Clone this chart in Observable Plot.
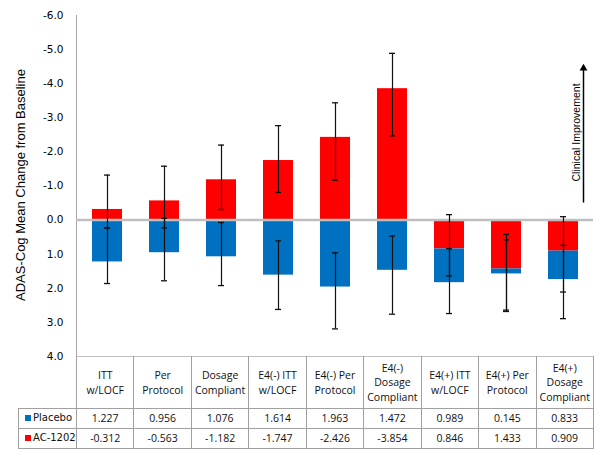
<!DOCTYPE html>
<html><head><meta charset="utf-8">
<script src="https://cdn.jsdelivr.net/npm/d3@7"></script>
<script src="https://cdn.jsdelivr.net/npm/@observablehq/plot@0.6"></script>
<style>
body{margin:0;background:#fff;}
#wrap{position:relative;width:600px;height:459px;overflow:hidden;}
#chart{position:absolute;left:0;top:0;}
#ytitle{position:absolute;left:20px;top:185px;width:0;height:0;}
#ytitle span{position:absolute;left:0;top:0;transform:translate(-50%,-50%) rotate(-90deg);white-space:nowrap;font-family:"Liberation Sans";font-size:13px;color:#000;line-height:1;}
#tbl{position:absolute;left:18px;top:356px;border-collapse:collapse;table-layout:fixed;width:575.4px;font-family:"Open Sans";font-size:10.5px;color:#111;}
#tbl td{border:1px solid #a0a0a0;text-align:center;padding:0;white-space:pre-line;line-height:14.5px;vertical-align:middle;}
#tbl tr.hdr{height:52px;}
#tbl tr.hdr td{border-top:1px solid #bfbfbf;}
#tbl tr.val{height:20px;}
#tbl td.blank{border-top:none !important;border-left:none;}
#tbl td.leg{text-align:left;font-family:"DejaVu Sans";font-size:10px;padding-left:6px;white-space:nowrap;}
.sw{display:inline-block;width:6px;height:6px;margin-right:2px;vertical-align:0px;}
</style></head>
<body>
<div id="wrap"><div id="chart"></div><div id="ytitle"><span></span></div><table id="tbl"></table></div>
<script>
const categories = ["ITT\nw/LOCF", "Per\nProtocol", "Dosage\nCompliant", "E4(-) ITT\nw/LOCF", "E4(-) Per\nProtocol", "E4(-)\nDosage\nCompliant", "E4(+) ITT\nw/LOCF", "E4(+) Per\nProtocol", "E4(+)\nDosage\nCompliant"];
const seriesNames = ["Placebo", "AC-1202"];
const seriesColors = ["#0070C0", "#FF0000"];
const placebo = [1.227, 0.956, 1.076, 1.614, 1.963, 1.472, 0.989, 0.145, 0.833];
const ac1202 = [-0.312, -0.563, -1.182, -1.747, -2.426, -3.854, 0.846, 1.433, 0.909];
// error bar ends (chart units, stacked position)
const placeboErrLow  = [0.23, -0.05, 0.07, 0.61, 0.96, 0.47, 0.84, 0.58, 0.74];
const placeboErrHigh = [1.86, 1.78, 1.92, 2.62, 3.19, 2.76, 2.74, 2.68, 2.89];
const acErrLow  = [-1.32, -1.58, -2.20, -2.77, -3.44, -4.89, -0.16, 0.42, -0.10];
const acErrHigh = [0.23, 0.23, -0.31, -0.81, -1.17, -2.47, 1.64, 2.64, 2.11];
const yTicks = [-6, -5, -4, -3, -2, -1, 0, 1, 2, 3, 4];
const yTitle = "ADAS-Cog Mean Change from Baseline";
const annotation = "Clinical Improvement";
const arrowFrom = -0.5, arrowTo = -4.45, annotY = -2.57;

const rows = [];
categories.forEach((c, i) => {
  rows.push({cat: c, series: "AC-1202", value: ac1202[i]});
  rows.push({cat: c, series: "Placebo", value: placebo[i]});
});
const errs = [];
categories.forEach((c, i) => {
  errs.push({cat: c, lo: acErrLow[i], hi: acErrHigh[i]});
  errs.push({cat: c, lo: placeboErrLow[i], hi: placeboErrHigh[i]});
});
const caps = errs.flatMap(e => [{cat: e.cat, y: e.lo}, {cat: e.cat, y: e.hi}]);
const lastCat = categories[categories.length - 1];

const chart = Plot.plot({
  width: 600, height: 366,
  marginTop: 15, marginBottom: 10, marginLeft: 76, marginRight: 7,
  style: {fontFamily: "DejaVu Sans", fontSize: "10.5px", color: "#000", background: "transparent"},
  x: {domain: categories, paddingInner: 0.48, paddingOuter: 0.24, axis: null},
  y: {domain: [-6, 4], reverse: true, axis: null},
  color: {domain: seriesNames, range: seriesColors},
  marks: [
    Plot.frame({anchor: "left", stroke: "#a6a6a6"}),
    Plot.barY(rows, {x: "cat", y: "value", fill: "series"}),
    Plot.ruleY([0], {stroke: "#bfbfbf", strokeWidth: 2.5}),
    Plot.ruleX(errs, {x: "cat", y1: "lo", y2: "hi", stroke: "#111", strokeWidth: 1.2}),
    Plot.tickY(caps, {x: "cat", y: "y", stroke: "#111", strokeWidth: 1.3, insetLeft: 12, insetRight: 12}),
    Plot.axisY({ticks: yTicks, tickFormat: d => d.toFixed(1), tickSize: 0, tickPadding: 13, label: null, fontSize: 10.5}),
    Plot.ruleX([lastCat], {x: d => d, y1: () => arrowFrom, y2: () => arrowTo, dx: 20, stroke: "#000", strokeWidth: 1.5}),
    Plot.dot([lastCat], {x: d => d, y: () => arrowTo, dx: 20, symbol: "triangle", r: 2.9, fill: "#000", stroke: "none"}),
    Plot.text([annotation], {x: () => lastCat, y: () => annotY, dx: 13, rotate: -90, fontSize: "10.5px", fontFamily: "Liberation Sans", fill: "#000"})
  ]
});
document.getElementById("chart").appendChild(chart);
document.querySelector("#ytitle span").textContent = yTitle;

// data table below the chart
const tbl = document.getElementById("tbl");
const cg = document.createElement("colgroup");
cg.innerHTML = `<col style="width:58px">` + categories.map(() => `<col style="width:57.44px">`).join("");
tbl.appendChild(cg);
const hdr = document.createElement("tr");
hdr.className = "hdr";
hdr.innerHTML = `<td class="blank"></td>` + categories.map(c => `<td>${c}</td>`).join("");
tbl.appendChild(hdr);
[[seriesNames[0], seriesColors[0], placebo], [seriesNames[1], seriesColors[1], ac1202]].forEach(([name, col, vals]) => {
  const tr = document.createElement("tr");
  tr.className = "val";
  tr.innerHTML = `<td class="leg"><span class="sw" style="background:${col}"></span>${name}</td>` + vals.map(v => `<td>${v.toFixed(3)}</td>`).join("");
  tbl.appendChild(tr);
});
</script>
</body></html>
